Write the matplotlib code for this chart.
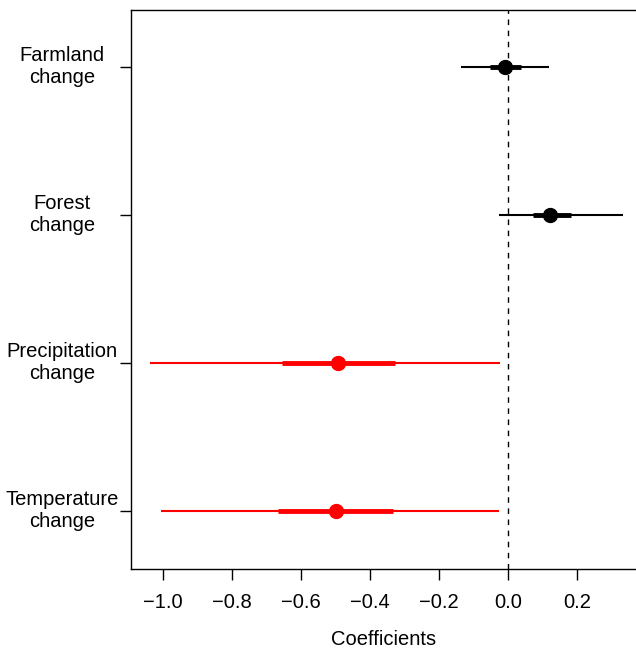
import matplotlib.pyplot as plt
from matplotlib.transforms import blended_transform_factory

plt.rcParams["font.family"] = ["Liberation Sans", "DejaVu Sans"]

# =========================
# DADOS
# =========================

variaveis = ["Farmland\nchange", "Forest\nchange", "Precipitation\nchange", "Temperature\nchange"]
posicoes = [4, 3, 2, 1]
coef = [-0.009, 0.122, -0.493, -0.499]
ic95_inf = [-0.136, -0.026, -1.038, -1.006]
ic95_sup = [0.119, 0.333, -0.023, -0.026]
ic50_inf = [-0.052, 0.072, -0.655, -0.667]
ic50_sup = [0.038, 0.183, -0.328, -0.333]
cores = ["black", "black", "red", "red"]

xticks = [-1.0, -0.8, -0.6, -0.4, -0.2, 0.0, 0.2]

# =========================
# GRÁFICO
# =========================

fig = plt.figure(figsize=(6.36, 6.48), dpi=100)
ax = fig.add_axes([131 / 636, 1 - 569 / 648, 1 - 131 / 636, (569 - 10) / 648])

ax.axvline(0, color="black", lw=1, ls=(0, (4, 4)), zorder=1)

for i in range(len(variaveis)):
    y = posicoes[i]
    ax.plot([ic95_inf[i], ic95_sup[i]], [y, y], color=cores[i], lw=1.5, solid_capstyle="butt", zorder=2)
    ax.plot([ic50_inf[i], ic50_sup[i]], [y, y], color=cores[i], lw=3.5, solid_capstyle="butt", zorder=3)
    ax.plot(coef[i], y, "o", color=cores[i], ms=10, zorder=4)

ax.set_xlim(-1.093, 0.371)
ax.set_ylim(0.608, 4.385)

ax.set_xticks(xticks)
ax.set_xticklabels(["\u22121.0", "\u22120.8", "\u22120.6", "\u22120.4", "\u22120.2", "0.0", "0.2"])
ax.set_yticks(posicoes)
ax.set_yticklabels([])

ax.tick_params(axis="both", direction="out", length=8, width=1, labelsize=14.5, pad=9)
ax.spines["right"].set_visible(False)
for s in ["left", "top", "bottom"]:
    ax.spines[s].set_linewidth(1)

trans = blended_transform_factory(fig.transFigure, ax.transData)
for i in range(len(variaveis)):
    ax.text(62 / 636, posicoes[i], variaveis[i], transform=trans, ha="center", va="center",
            multialignment="center", fontsize=14.5, linespacing=1.2)

ax.set_xlabel("Coefficients", fontsize=14.5, labelpad=13)

plt.savefig("out.png", dpi=100)
plt.close()
